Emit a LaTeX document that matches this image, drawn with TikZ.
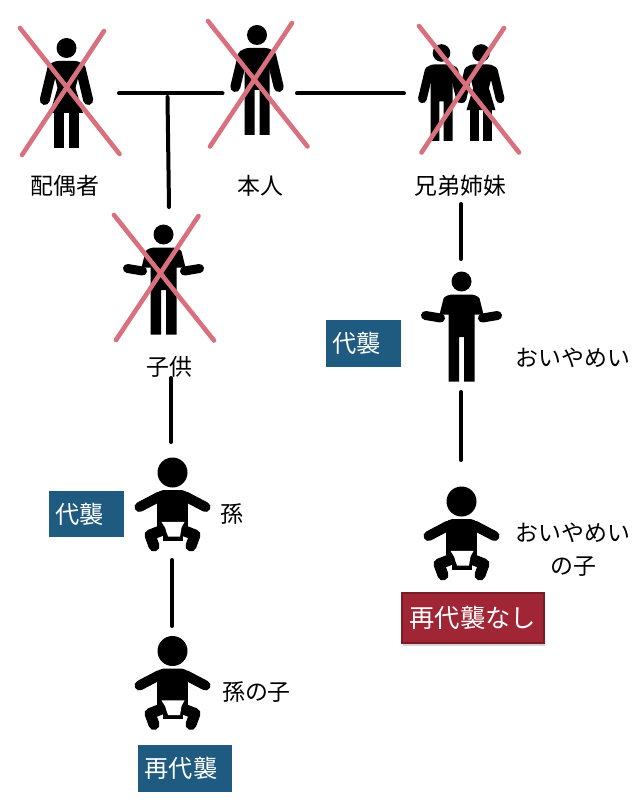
\documentclass[tikz,border=0pt]{standalone}
\usepackage{fontspec}
\setmainfont{Noto Sans CJK JP}
\usetikzlibrary{shadows}
\tikzset{
	linkline/.style={line width=1mm, color=black, line cap=round},
	crossline/.style={line width=1.15mm, color=crosspink, line cap=round},
	armline/.style={line width=2.5mm, color=black, line cap=round, line join=round},
	jplabel/.style={font=\fontsize{16.3}{23.4}\selectfont, inner sep=0pt, align=center},
	bluebox/.style={anchor=north west, fill=boxblue, text=white, font=\fontsize{17.2}{20}\selectfont, minimum height=1.16cm, inner xsep=0.16cm, inner ysep=0pt, align=left},
	redbox/.style={anchor=north west, fill=boxred, draw=boxred!75!black, line width=0.4mm, text=white, font=\fontsize{18}{20}\selectfont, minimum width=3.55cm, minimum height=1.26cm, inner sep=0pt, drop shadow={shadow xshift=0.02cm, shadow yshift=-0.06cm, opacity=0.35}}
}
\definecolor{crosspink}{HTML}{D9707E}
\definecolor{boxblue}{HTML}{1F5A80}
\definecolor{boxred}{HTML}{A02535}
\def\headfig{\fill (0, 0) circle (10);}
\def\manfig[#1](#2){\begin{scope}[shift={(#2)},#1]
	\headfig
	\fill (-12.5, 100) -- (-12.5, 28) -- (-18, 20) .. controls (-17, 15) and (-12, 13) .. (-8, 13) -- (8, 13) .. controls (12, 13) and (17, 15) .. (18, 20) -- (12.5, 28) -- (12.5, 100) -- (2.5, 100) -- (2.5, 55) -- (-2.5, 55) -- (-2.5, 100) -- cycle;
	\draw[armline] (-14, 20) -- (-21.7, 52);
	\draw[armline] (14, 20) -- (21.7, 52);
\end{scope}}
\def\womanfig[#1](#2){\begin{scope}[shift={(#2)},#1]
	\headfig
	\fill (-16.5, 65) -- (-9, 40) -- (-12, 28) -- (-18, 20) .. controls (-17, 15) and (-12, 13) .. (-8, 13) -- (8, 13) .. controls (12, 13) and (17, 15) .. (18, 20) -- (12, 28) -- (9, 40) -- (16.5, 65) -- cycle;
	\fill (-12.5, 65) rectangle (-2.5, 100);
	\fill (2.5, 65) rectangle (12.5, 100);
	\draw[armline] (-14, 20) -- (-21.7, 52);
	\draw[armline] (14, 20) -- (21.7, 52);
\end{scope}}
\def\shrugfig(#1){\begin{scope}[shift={(#1)}]
	\headfig
	\fill (-13, 100) -- (-13, 33) -- (-22, 33) -- (-18, 17) .. controls (-16, 14) and (-12, 13) .. (-8, 13) -- (8, 13) .. controls (12, 13) and (16, 14) .. (18, 17) -- (22, 33) -- (13, 33) -- (13, 100) -- (2.5, 100) -- (2.5, 55.5) -- (-2.5, 55.5) -- (-2.5, 100) -- cycle;
	\draw[armline, line width=2.25mm] (-21, 36.5) -- (-36, 34);
	\draw[armline, line width=2.25mm] (21, 36.5) -- (36, 34);
\end{scope}}
\def\babyfig(#1){\begin{scope}[shift={(#1)}]
	\fill (0, 0) circle (15);
	\fill (-15.3, 58) -- (-15.3, 24) .. controls (-15.3, 19) and (-12, 17.5) .. (-9, 17.5) -- (9, 17.5) .. controls (12, 17.5) and (15.3, 19) .. (15.3, 24) -- (15.3, 58) -- cycle;
	\fill (-10, 60) rectangle (10, 68);
	\draw[armline] (-13, 24) -- (-33, 34.5);
	\draw[armline] (13, 24) -- (33, 34.5);
	\draw[armline, line width=2.75mm] (-11, 58) -- (-22.5, 62.5) -- (-18.5, 73.5);
	\draw[armline, line width=2.75mm] (11, 58) -- (22.5, 62.5) -- (18.5, 73.5);
	\fill[white] (-11, 49.4) -- (12, 49.4) -- (9, 55) -- (7.5, 64) -- (-4.5, 64) -- (-7.5, 55) -- cycle;
\end{scope}}

\begin{document}
\begin{tikzpicture}[x=0.025cm, y=-0.025cm]
		%%%%% START %%%%%
		\useasboundingbox (0, 0) rectangle (640, 800);

		\manfig[](257, 35)
		\womanfig[](66.5, 48)
		\manfig[scale=0.88, armline/.append style={line width=2.2mm}](441.5, 53)
		\womanfig[scale=0.88, armline/.append style={line width=2.2mm}](481, 53)
		\shrugfig(163.5, 234.5)
		\shrugfig(461.5, 281.5)
		\babyfig(172.5, 472.5)
		\babyfig(172.5, 651)
		\babyfig(461.5, 501.5)

		\draw[crossline] (20, 28) -- (119.5, 154);
		\draw[crossline] (104, 31) -- (22, 155);
		\draw[crossline] (208, 21) -- (307.5, 146.5);
		\draw[crossline] (292, 23) -- (210, 146.5);
		\draw[crossline] (419, 26) -- (519, 152.5);
		\draw[crossline] (504, 28) -- (421.5, 152.5);
		\draw[crossline] (114, 215) -- (214, 340.5);
		\draw[crossline] (198.5, 216) -- (116, 340);

		\node[jplabel] (spouse) at (65, 186) {配偶者};
		\node[jplabel] (self) at (260, 186) {本人};
		\node[jplabel] (sibling) at (460.5, 186) {兄弟姉妹};
		\node[jplabel] (child) at (169, 367) {子供};
		\node[jplabel] (nephew) at (573, 358) {おいやめい};
		\node[jplabel] (grandchild) at (232, 514) {孫};
		\node[jplabel] (greatgrandchild) at (256.5, 692) {孫の子};
		\node[jplabel] (nephewchild) at (573, 550) {おいやめい\\の子};

		\node[bluebox, minimum width=1.875cm, text width=1.555cm] (daishuA) at (326, 320) {代襲};
		\node[bluebox, minimum width=1.875cm, text width=1.555cm] (daishuB) at (49, 490.5) {代襲};
		\node[bluebox, minimum width=2.35cm, text width=2.03cm] (saidaishu) at (138, 745) {再代襲};
		\node[redbox] (nosaidaishu) at (401, 592) {再代襲なし};

		\coordinate (spouseR) at (119, 93.5);
		\coordinate (selfL) at (222.5, 93.5);
		\coordinate (selfR) at (297, 93.5);
		\coordinate (siblingL) at (404, 93.5);
		\coordinate (marriageB) at (167.5, 97);
		\coordinate (childT) at (169, 207);
		\coordinate (childB) at (171, 378);
		\coordinate (grandT) at (171, 442);
		\coordinate (grandB) at (172, 560);
		\coordinate (greatT) at (172, 626);
		\coordinate (siblingB) at (461, 204);
		\coordinate (nephewT) at (461, 259);
		\coordinate (nephewB) at (461, 392);
		\coordinate (nephewchildT) at (461, 460);

		\draw[linkline] (spouseR) -- (selfL);
		\draw[linkline] (selfR) -- (siblingL);
		\draw[linkline] (marriageB) -- (childT);
		\draw[linkline] (childB) -- (grandT);
		\draw[linkline] (grandB) -- (greatT);
		\draw[linkline] (siblingB) -- (nephewT);
		\draw[linkline] (nephewB) -- (nephewchildT);

		%%%%% END %%%%%
	\end{tikzpicture}
\end{document}
